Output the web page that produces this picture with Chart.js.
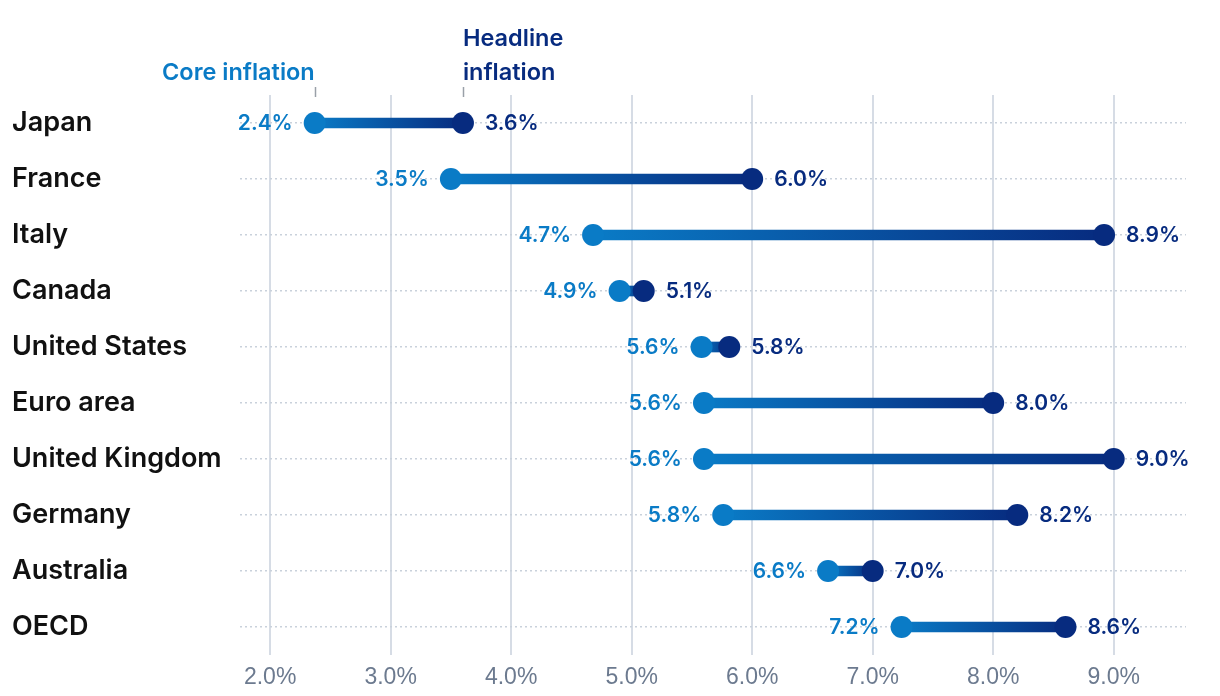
<!DOCTYPE html>
<html><head><meta charset="utf-8">
<script src="https://cdn.jsdelivr.net/npm/chart.js@4.4.1/dist/chart.umd.min.js"></script>
<style>html,body{margin:0;padding:0;background:#fff}#wrap{width:1220px;height:696px;position:relative}</style>
</head><body><div id="wrap"><canvas id="c" width="1220" height="696"></canvas></div>
<script>
const countries = ['Japan','France','Italy','Canada','United States','Euro area','United Kingdom','Germany','Australia','OECD'];
const coreValues = [2.37, 3.5, 4.68, 4.9, 5.58, 5.6, 5.6, 5.76, 6.63, 7.24];
const headlineValues = [3.6, 6.0, 8.92, 5.1, 5.81, 8.0, 9.0, 8.2, 7.0, 8.6];
const xTickValues = [2, 3, 4, 5, 6, 7, 8, 9];
const coreName = 'Core inflation';
const headlineName = ['Headline', 'inflation'];

const CORE = '#0a7bc6';
const HEAD = '#072b7f';
const FONT = 'Inter, "Noto Sans", sans-serif';

function gradFor(ctx) {
  const chart = ctx.chart;
  if (!chart.chartArea || ctx.dataIndex === undefined) return CORE;
  const xs = chart.scales.x;
  const i = ctx.dataIndex;
  const x0 = xs.getPixelForValue(coreValues[i]);
  const x1 = xs.getPixelForValue(headlineValues[i]);
  const g = chart.ctx.createLinearGradient(x0, 0, x1, 0);
  g.addColorStop(0, CORE);
  g.addColorStop(1, HEAD);
  return g;
}

const labelPlugin = {
  id: 'dotLabels',
  afterDatasetsDraw(chart) {
    const ctx = chart.ctx;
    ctx.save();
    ctx.font = '600 21px ' + FONT;
    ctx.textBaseline = 'middle';
    [[1, coreValues, CORE, 'right', -22], [2, headlineValues, HEAD, 'left', 22]].forEach(([di, vals, col, al, off]) => {
      const meta = chart.getDatasetMeta(di);
      ctx.fillStyle = col;
      ctx.textAlign = al;
      meta.data.forEach((pt, i) => {
        ctx.fillText(vals[i].toFixed(1) + '%', pt.x + off, pt.y + 1);
      });
    });
    // header annotations
    const pc = chart.getDatasetMeta(1).data[0];
    const ph = chart.getDatasetMeta(2).data[0];
    ctx.strokeStyle = '#9aa0a8';
    ctx.lineWidth = 1.5;
    [pc.x, ph.x].forEach(x => {
      ctx.beginPath(); ctx.moveTo(Math.round(x) + 0.5, 87); ctx.lineTo(Math.round(x) + 0.5, 97); ctx.stroke();
    });
    ctx.font = '600 23.5px ' + FONT;
    ctx.textBaseline = 'alphabetic';
    ctx.fillStyle = CORE;
    ctx.textAlign = 'right';
    ctx.fillText(coreName, pc.x, 80);
    ctx.fillStyle = HEAD;
    ctx.textAlign = 'left';
    ctx.fillText(headlineName[0], ph.x, 46);
    ctx.fillText(headlineName[1], ph.x, 80);
    ctx.restore();
  }
};

new Chart(document.getElementById('c'), {
  type: 'bar',
  data: {
    labels: countries,
    datasets: [
      {
        type: 'bar', indexAxis: 'y', order: 3,
        data: countries.map((c, i) => [coreValues[i], headlineValues[i]]),
        backgroundColor: gradFor, barThickness: 10, borderSkipped: false, borderWidth: 0
      },
      {
        type: 'line', indexAxis: 'y', order: 1, showLine: false,
        data: coreValues, pointRadius: 11, pointBackgroundColor: CORE, pointBorderWidth: 0, borderColor: CORE
      },
      {
        type: 'line', indexAxis: 'y', order: 2, showLine: false,
        data: headlineValues, pointRadius: 11, pointBackgroundColor: HEAD, pointBorderWidth: 0, borderColor: HEAD
      }
    ]
  },
  options: {
    indexAxis: 'y',
    responsive: false,
    animation: false,
    events: [],
    layout: { padding: { left: 12, right: 34, top: 95, bottom: 0 } },
    plugins: { legend: { display: false }, tooltip: { enabled: false } },
    scales: {
      x: {
        type: 'linear', position: 'bottom', min: 1.75, max: 9.6,
        afterBuildTicks: s => { s.ticks = xTickValues.map(v => ({ value: v })); },
        afterFit: s => { s.height = 41; },
        grid: { color: '#d6dce5', lineWidth: 2, drawTicks: false },
        border: { display: false },
        ticks: {
          padding: 9, color: '#6c7a8f',
          font: { family: '"Liberation Sans", Arial, sans-serif', size: 23 },
          callback: v => Number(v).toFixed(1) + '%'
        }
      },
      y: {
        type: 'category', position: 'left', offset: true,
        afterFit: s => { s.width = 228; },
        grid: { offset: false, color: '#c9d1db', lineWidth: 1.5, drawTicks: false },
        border: { display: false, dash: [2, 3] },
        ticks: { crossAlign: 'far', padding: 0, color: '#111111', font: { family: FONT, size: 27, weight: '600' } }
      }
    }
  },
  plugins: [labelPlugin]
});
</script></body></html>
